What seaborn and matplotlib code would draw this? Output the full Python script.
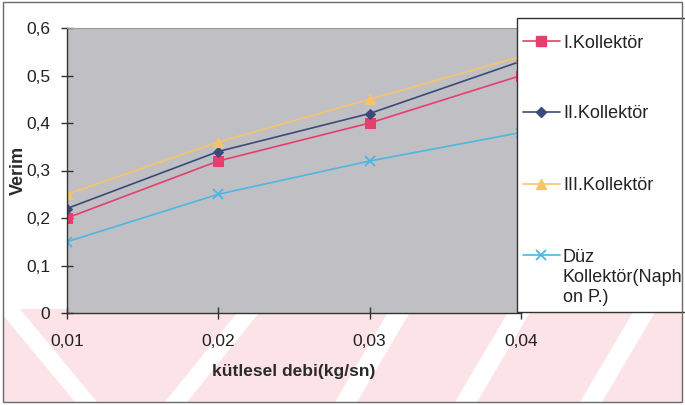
import numpy as np
import pandas as pd
import seaborn as sns
import matplotlib
matplotlib.use("Agg")
import matplotlib.pyplot as plt
from matplotlib.patches import Rectangle, Polygon
from matplotlib.lines import Line2D

# Mass flow rate (kg/s) and collector efficiency values
debi = [0.01, 0.02, 0.03, 0.04]
kollektor_1 = [0.20, 0.32, 0.40, 0.50]
kollektor_2 = [0.22, 0.34, 0.42, 0.53]
kollektor_3 = [0.25, 0.36, 0.45, 0.54]
duz_kollektor = [0.15, 0.25, 0.32, 0.38]

series_names = ["I.Kollektör", "II.Kollektör", "III.Kollektör",
                "Düz\nKollektör(Naph\non P.)"]
x_ticks = [0.01, 0.02, 0.03, 0.04]
x_tick_labels = ["0,01", "0,02", "0,03", "0,04"]
y_ticks = [0, 0.1, 0.2, 0.3, 0.4, 0.5, 0.6]
y_tick_labels = ["0", "0,1", "0,2", "0,3", "0,4", "0,5", "0,6"]

styles = [
    dict(color="#E63E6D", marker="s", markersize=6.5),
    dict(color="#3B4A78", marker="D", markersize=5),
    dict(color="#F5C46A", marker="^", markersize=7),
    dict(color="#4DB6E2", marker="x", markersize=7, markeredgewidth=1.3),
]

sns.set_theme(style="white")
plt.rcParams["font.family"] = ["Liberation Sans", "DejaVu Sans"]

W, H = 685, 405
fig = plt.figure(figsize=(W / 100, H / 100), dpi=100)


def fx(x):
    return x / W


def fy(y):
    return 1 - y / H


# faint diagonal-striped band behind the lower part of the figure
band = Rectangle((fx(4), fy(402)), fx(678), (402 - 309) / H,
                 transform=fig.transFigure, facecolor="#FBE3E7",
                 edgecolor="none", zorder=-2)
fig.patches.append(band)
stripes = [(-2, 20, 75, 97), (240, 262, 165, 187), (390, 412, 335, 357),
           (510, 532, 455, 477), (635, 657, 580, 602)]
for t0, t1, b0, b1 in stripes:
    poly = Polygon([(fx(t0), fy(309)), (fx(t1), fy(309)),
                    (fx(b1), fy(402)), (fx(b0), fy(402))],
                   closed=True, transform=fig.transFigure,
                   facecolor="white", edgecolor="none", zorder=-1)
    poly.set_clip_path(band)
    fig.patches.append(poly)

ax = fig.add_axes([fx(67), fy(313), (521 - 67) / W, (313 - 28) / H])
ax.set_zorder(0)
ax.set_facecolor("#C0C0C4")

df = pd.DataFrame({
    "debi": debi * 4,
    "verim": kollektor_1 + kollektor_2 + kollektor_3 + duz_kollektor,
    "seri": sum([[n] * len(debi) for n in series_names], []),
})

for name, st in zip(series_names, styles):
    sub = df[df["seri"] == name]
    sns.lineplot(data=sub, x="debi", y="verim", ax=ax, legend=False,
                 linewidth=1.2, markeredgecolor=st["color"], **st)

ax.set_xlim(0.01, 0.04)
ax.set_ylim(0, 0.6)
ax.set_xticks(x_ticks)
ax.set_xticklabels(x_tick_labels)
ax.set_yticks(y_ticks)
ax.set_yticklabels(y_tick_labels)
ax.tick_params(axis="both", which="major", direction="inout", length=8,
               width=1, color="#333333", labelsize=12.5, labelcolor="#222222",
               bottom=True, left=True)
ax.tick_params(axis="x", pad=11)
ax.tick_params(axis="y", pad=8)
for side in ["left", "bottom"]:
    ax.spines[side].set_color("#333333")
    ax.spines[side].set_linewidth(1.0)
for side in ["top", "right"]:
    ax.spines[side].set_color("#9a9a9a")
    ax.spines[side].set_linewidth(0.8)

ax.set_xlabel("kütlesel debi(kg/sn)", fontsize=12.5, fontweight="bold",
              color="#2a2a2a", labelpad=11)
ax.set_ylabel("Verim", fontsize=13, fontweight="bold", color="#2a2a2a")
ax.yaxis.set_label_coords(-0.088, 0.5)

# legend panel at the right
panel = Rectangle((fx(517), fy(312)), fx(175), (312 - 18) / H,
                  transform=fig.transFigure, facecolor="white",
                  edgecolor="#333333", linewidth=1.0, zorder=5)
fig.patches.append(panel)

line_pitch = 20.5
entry_y = [41, 112, 184, 255]
for name, st, yy in zip(series_names, styles, entry_y):
    line = Line2D([fx(523), fx(560)], [fy(yy), fy(yy)],
                  transform=fig.transFigure, linewidth=1.2,
                  color=st["color"], zorder=6)
    mark = Line2D([fx(541)], [fy(yy)], transform=fig.transFigure,
                  linestyle="none", markeredgecolor=st["color"], zorder=6,
                  **st)
    fig.lines.extend([line, mark])
    n_extra = name.count("\n")
    fig.text(fx(563), fy(yy + 6.5 + n_extra * line_pitch), name,
             fontsize=13, color="#222222", va="baseline", ha="left",
             linespacing=1.26, zorder=6)

# outer chart border
fig.patches.append(Rectangle((fx(3), fy(402)), fx(679), 400 / H,
                             transform=fig.transFigure, facecolor="none",
                             edgecolor="#6a6a6a", linewidth=1.0, zorder=7))

fig.savefig("out.png", dpi=100)
